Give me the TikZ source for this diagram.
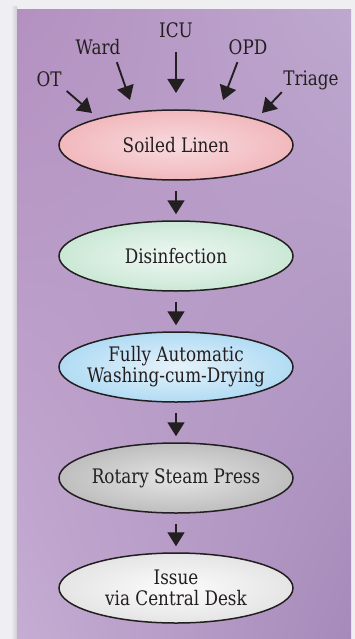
\documentclass[tikz,border=0pt]{standalone}
\usepackage{fontspec}
\setmainfont{DejaVu Serif}[FakeStretch=0.84]
\usetikzlibrary{shapes.geometric,arrows.meta,shadings}

\definecolor{pageGrey}{HTML}{EFEEF1}
\definecolor{shadowGrey}{HTML}{CFCDD3}
\definecolor{purpleUL}{HTML}{B390C0}
\definecolor{purpleUR}{HTML}{BEA8CF}
\definecolor{purpleLL}{HTML}{C5ADD3}
\definecolor{purpleLR}{HTML}{A68ABA}
\definecolor{inkDark}{HTML}{231F20}
\definecolor{pinkIn}{HTML}{F7DADE}
\definecolor{pinkOut}{HTML}{EC979D}
\definecolor{mintIn}{HTML}{EFF8F3}
\definecolor{mintOut}{HTML}{A6D7B8}
\definecolor{skyIn}{HTML}{E6F2FA}
\definecolor{skyOut}{HTML}{7CC5EE}
\definecolor{steelIn}{HTML}{E4E4E4}
\definecolor{steelOut}{HTML}{989898}
\definecolor{paperIn}{HTML}{FCFCFC}
\definecolor{paperOut}{HTML}{CDCDCD}

\def\lensshade#1#2#3{\pgfdeclareradialshading{#1}{\pgfpoint{0bp}{0bp}}{color(0bp)=(#2); color(50bp)=(#3)}}
\lensshade{soiledShade}{pinkIn}{pinkOut}
\lensshade{disinShade}{mintIn}{mintOut}
\lensshade{washShade}{skyIn}{skyOut}
\lensshade{pressShade}{steelIn}{steelOut}
\lensshade{issueShade}{paperIn}{paperOut}

\tikzset{
  stage/.style={ellipse, draw=inkDark, line width=1.5pt, shade, minimum width=234pt,
    minimum height=70pt, inner xsep=-12pt, inner ysep=0pt, align=center, text=inkDark,
    font=\fontsize{20}{21}\selectfont},
  source/.style={inner sep=2pt, text=inkDark, font=\fontsize{20}{21}\selectfont},
  flow/.style={line width=1.9pt, inkDark, -{Triangle[length=14pt,width=17pt]}}
}

\begin{document}
\begin{tikzpicture}[x=1pt, y=-1pt]
			%%%%% START %%%%%
			
			\useasboundingbox (0, 0) rectangle (355, 639);
			\fill[pageGrey] (0, 0) rectangle (355, 639);
			\shade[left color=pageGrey, right color=shadowGrey] (11, 7) rectangle (17, 639);
			\shade[upper left=purpleUL, upper right=purpleUR, lower left=purpleLL, lower right=purpleLR] (17, 10) rectangle (351, 639);
			
			\node[stage, shading=soiledShade] (soiled) at (176, 145) {Soiled Linen};
			\node[stage, shading=disinShade] (disin) at (176, 256) {Disinfection};
			\node[stage, shading=washShade] (wash) at (176, 367) {Fully Automatic\\Washing-cum-Drying};
			\node[stage, shading=pressShade] (press) at (176, 478) {Rotary Steam Press};
			\node[stage, shading=issueShade] (issue) at (176, 588) {Issue\\via Central Desk};
			
			\node[source, anchor=base] (ot) at (49, 86.5) {OT};
			\node[source, anchor=base] (ward) at (98, 55) {Ward};
			\node[source, anchor=base] (icu) at (176, 38) {ICU};
			\node[source, anchor=base] (opd) at (248, 55) {OPD};
			\node[source, anchor=base] (triage) at (311, 85.5) {Triage};
			
			\coordinate (otTip) at (92, 113);
			\coordinate (wardTip) at (130, 100);
			\coordinate (icuTip) at (176, 93);
			\coordinate (opdTip) at (223, 100);
			\coordinate (triageTip) at (262, 113);
			
			\draw[flow, shorten <=4pt] (ot.-32) -- (otTip);
			\draw[flow, shorten <=5pt] (ward.-30) -- (wardTip);
			\draw[flow, shorten <=12pt] (icu) -- (icuTip);
			\draw[flow, shorten <=5pt] (opd.-132) -- (opdTip);
			\draw[flow] (triage.-158) -- (triageTip);
			
			\draw[flow, shorten <=10pt, shorten >=6pt] (soiled) -- (disin);
			\draw[flow, shorten <=10pt, shorten >=6pt] (disin) -- (wash);
			\draw[flow, shorten <=10pt, shorten >=6pt] (wash) -- (press);
			\draw[flow, shorten <=10pt, shorten >=6pt] (press) -- (issue);
			
			%%%%% END %%%%%
\end{tikzpicture}
\end{document}
